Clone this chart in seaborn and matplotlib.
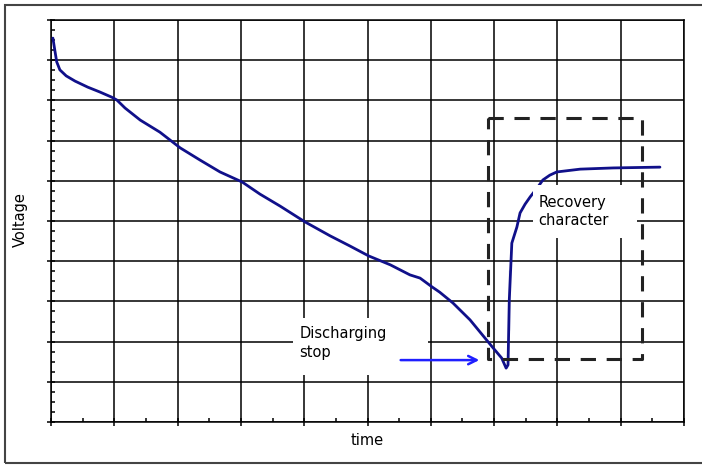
import numpy as np
import pandas as pd
import matplotlib
matplotlib.use("Agg")
import matplotlib.pyplot as plt
from matplotlib.patches import Rectangle
from matplotlib.ticker import MultipleLocator
import seaborn as sns


# =====================
# Data (arbitrary units)
# =====================

time_vals = [
    0.03, 0.06, 0.09, 0.14, 0.24, 0.38, 0.58, 0.77, 0.96, 1.04,
    1.17, 1.41, 1.72, 2.04, 2.35, 2.67, 3.02, 3.30, 3.62, 4.01,
    4.41, 4.72, 5.02, 5.36, 5.67, 5.83, 6.02, 6.14, 6.35, 6.62,
    6.97, 7.12, 7.19, 7.22, 7.24, 7.24, 7.28, 7.36, 7.41, 7.49,
    7.57, 7.68, 7.77, 7.88, 7.99, 8.36, 8.88, 9.62
]

voltage_vals = [
    9.55, 9.25, 8.96, 8.76, 8.61, 8.48, 8.33, 8.21, 8.08, 8.01,
    7.81, 7.51, 7.21, 6.82, 6.52, 6.22, 5.97, 5.67, 5.37, 4.98,
    4.63, 4.38, 4.13, 3.91, 3.66, 3.58, 3.36, 3.23, 2.96, 2.54,
    1.87, 1.59, 1.34, 1.42, 2.29, 3.78, 4.45, 4.85, 5.20, 5.42,
    5.60, 5.82, 6.02, 6.14, 6.22, 6.29, 6.32, 6.34
]

# recovery region box (x0, x1, y0, y1)
box_x = [6.90, 9.34]
box_y = [1.57, 7.56]

# arrow pointing at the discharge stop
arrow_x = [5.48, 6.81]
arrow_y = 1.54

df = pd.DataFrame({"time": time_vals, "voltage": voltage_vals})


# =====================
# Figure
# =====================

sns.set_style("white")
plt.rcParams["font.family"] = ["DejaVu Sans"]
plt.rcParams["text.color"] = "black"

fig = plt.figure(figsize=(7.02, 4.65), dpi=100)

ax = fig.add_axes([51 / 702, 1 - 422 / 465, 633 / 702, 402 / 465])

sns.lineplot(
    data=df,
    x="time",
    y="voltage",
    sort=False,
    color="#10108a",
    linewidth=2.0,
    ax=ax,
    zorder=3
)

ax.set_xlim(0, 10)
ax.set_ylim(0, 10)

ax.xaxis.set_major_locator(MultipleLocator(1))
ax.xaxis.set_minor_locator(MultipleLocator(0.5))
ax.yaxis.set_major_locator(MultipleLocator(1))
ax.yaxis.set_minor_locator(MultipleLocator(0.25))

ax.grid(True, which="major", color="black", linewidth=1.1)

ax.tick_params(
    which="major",
    bottom=True,
    left=True,
    direction="inout",
    length=6,
    width=1.1,
    color="black",
    labelbottom=False,
    labelleft=False
)

ax.tick_params(
    which="minor",
    bottom=True,
    left=True,
    direction="in",
    length=3,
    width=1.1,
    color="black"
)

for side in ax.spines.values():
    side.set_visible(True)
    side.set_color("black")
    side.set_linewidth(1.1)

ax.set_xlabel("")
ax.set_ylabel("")


# =====================
# Annotations
# =====================

# white backgrounds behind the two notes (they hide grid and curve)
ax.add_patch(
    Rectangle((3.82, 1.17), 2.14, 1.42,
              facecolor="white", edgecolor="none", zorder=2.5)
)

ax.add_patch(
    Rectangle((7.62, 4.58), 1.63, 1.32,
              facecolor="white", edgecolor="none", zorder=3.5)
)

ax.plot(
    [box_x[0], box_x[1], box_x[1], box_x[0], box_x[0]],
    [box_y[1], box_y[1], box_y[0], box_y[0], box_y[1]],
    color="#222222",
    linewidth=2.2,
    dashes=(5, 3.5),
    zorder=4
)

ax.annotate(
    "",
    xy=(arrow_x[1], arrow_y),
    xytext=(arrow_x[0], arrow_y),
    arrowprops=dict(
        arrowstyle="->",
        color="#1f1fff",
        linewidth=1.8,
        mutation_scale=15
    ),
    zorder=5
)

ax.text(
    3.92, 1.97,
    "Discharging\nstop",
    fontsize=10.5,
    color="black",
    ha="left",
    va="center",
    linespacing=1.3,
    zorder=6
)

ax.text(
    7.70, 5.24,
    "Recovery\ncharacter",
    fontsize=10.5,
    color="black",
    ha="left",
    va="center",
    linespacing=1.3,
    zorder=6
)

fig.text(20 / 702, 1 - 220 / 465, "Voltage", rotation=90,
         ha="center", va="center", fontsize=10.5, color="black")

fig.text(367 / 702, 1 - 440 / 465, "time",
         ha="center", va="center", fontsize=10.5, color="black")

# outer frame (runs off the right edge of the picture)
fig.patches.append(
    Rectangle(
        (5 / 702, 1 - 463 / 465),
        710 / 702,
        458 / 465,
        transform=fig.transFigure,
        fill=False,
        edgecolor="#444444",
        linewidth=1.5
    )
)

plt.savefig("out.png", dpi=100)
plt.close()
